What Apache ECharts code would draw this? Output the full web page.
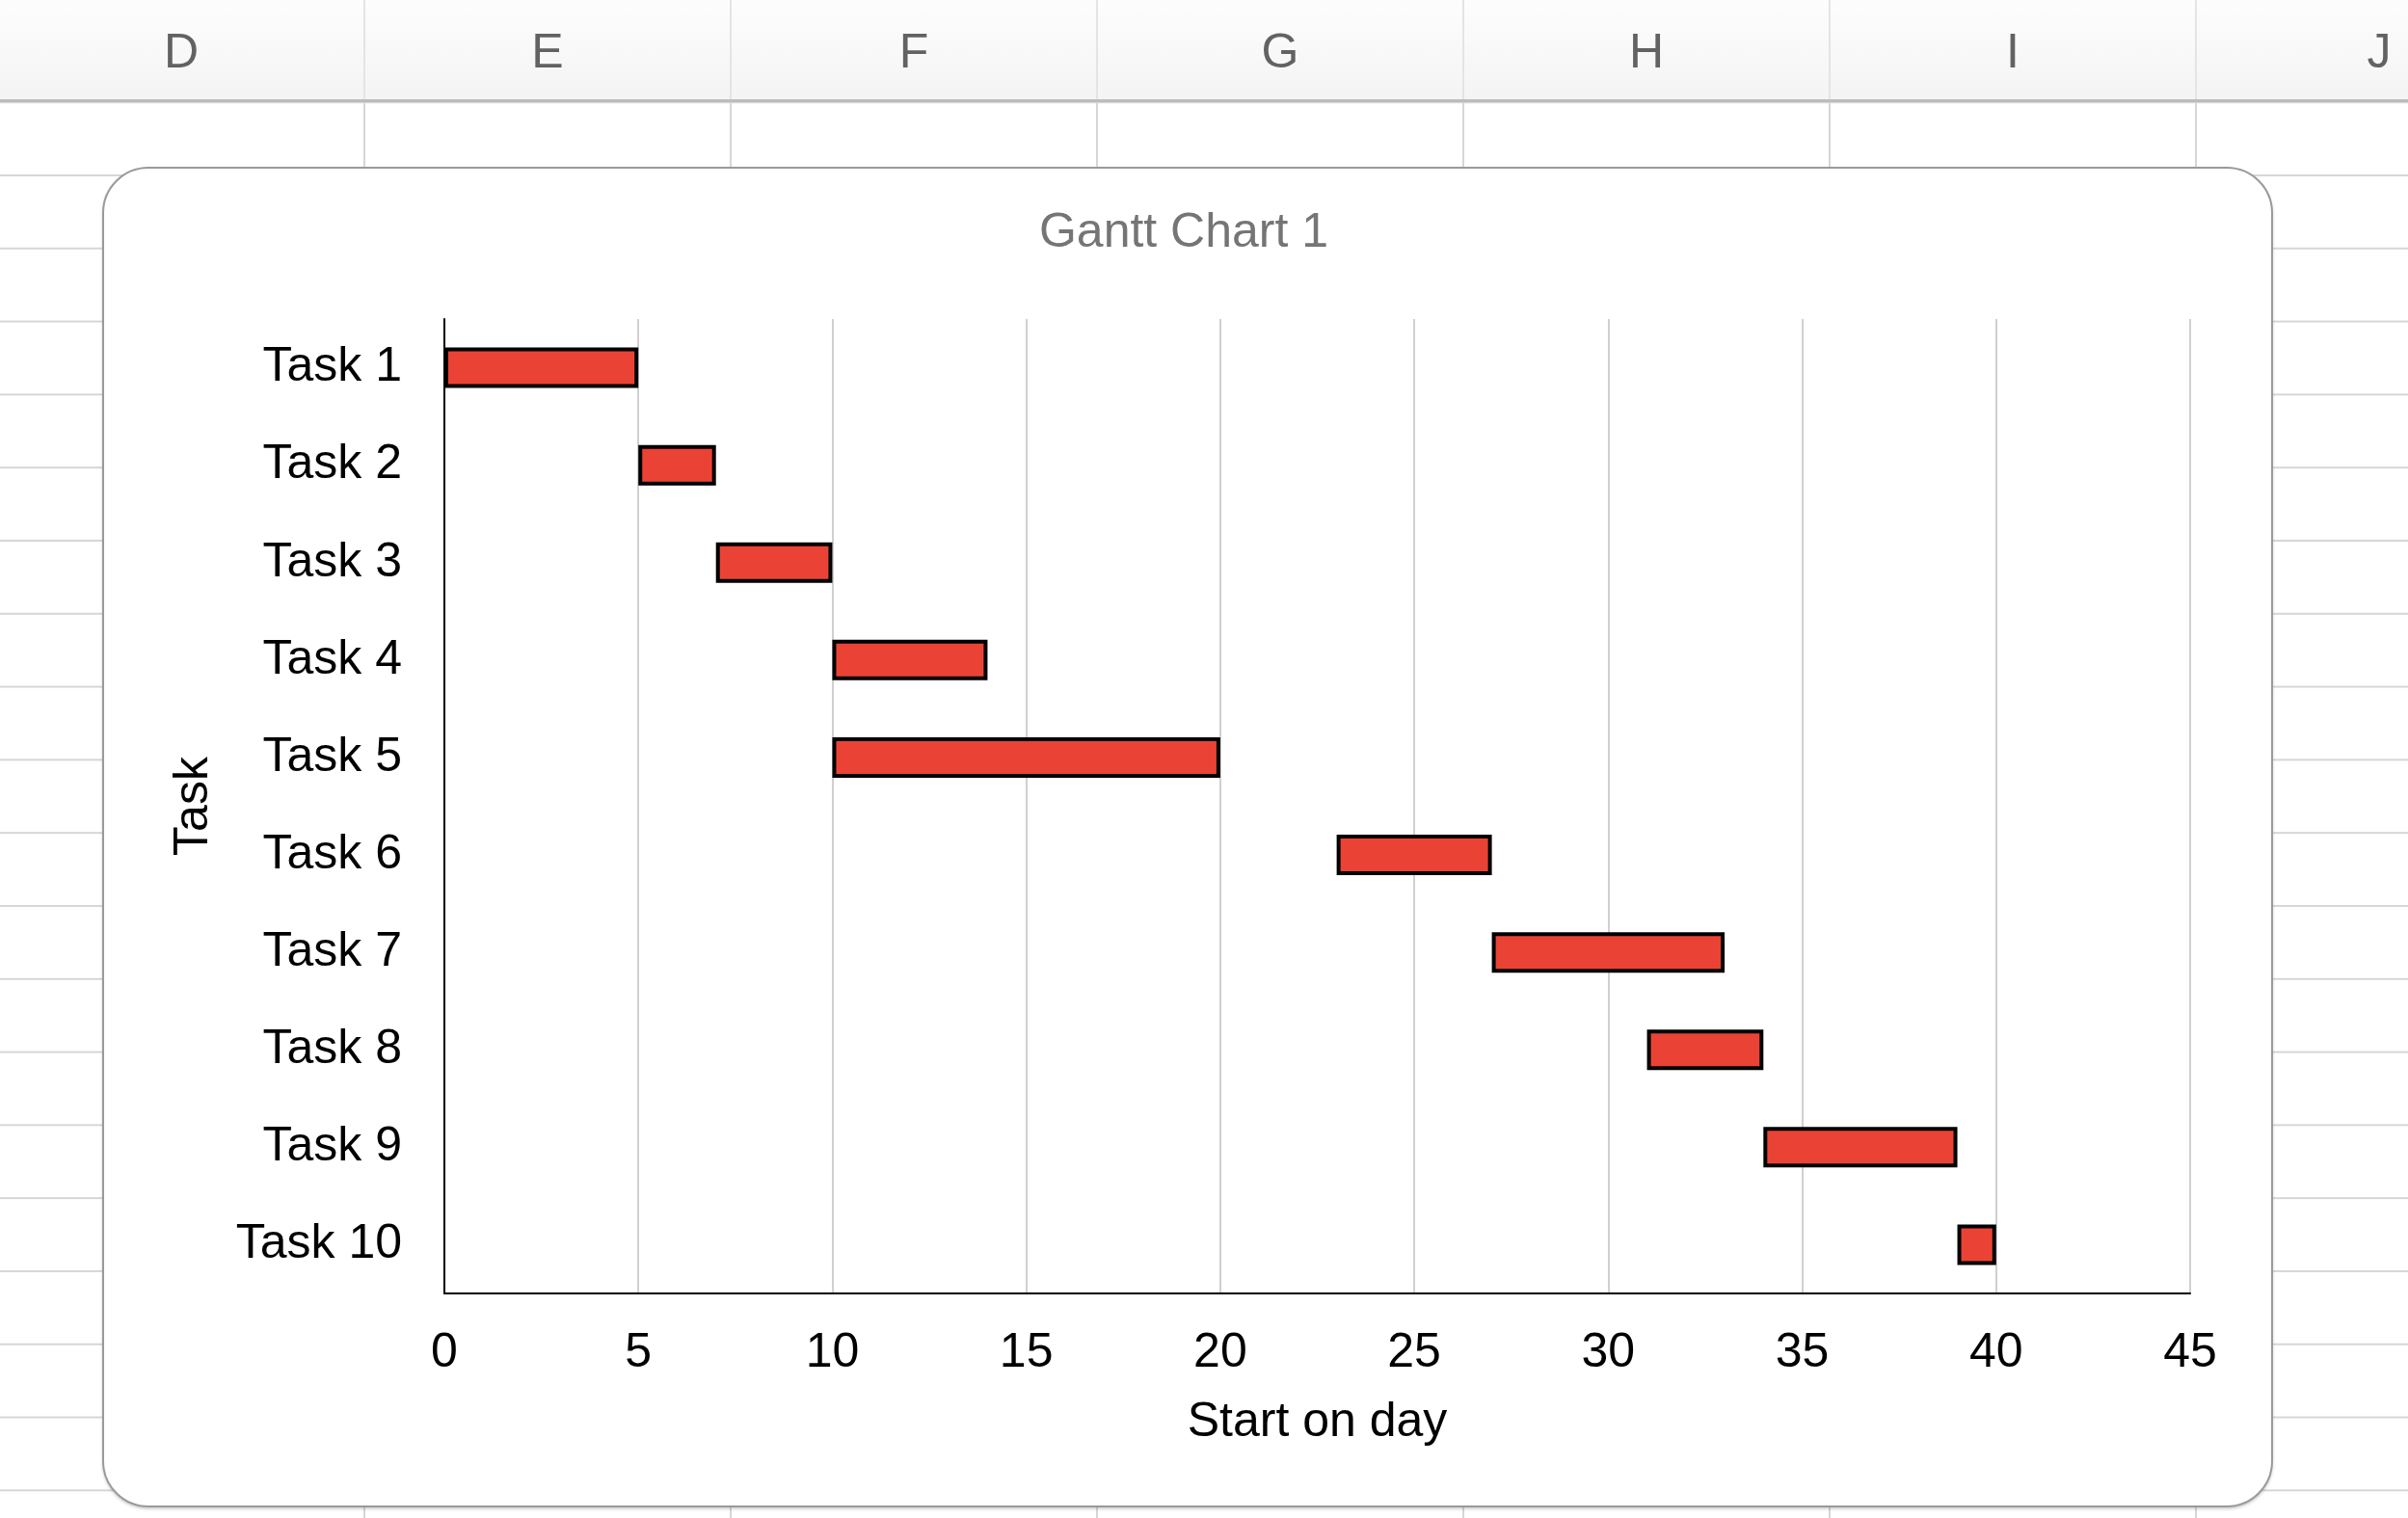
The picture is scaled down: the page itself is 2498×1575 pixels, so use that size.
<!DOCTYPE html>
<html>
<head>
<meta charset="utf-8">
<script src="https://cdn.jsdelivr.net/npm/echarts@6/dist/echarts.min.js"></script>
<style>
  html, body { margin: 0; padding: 0; }
  body {
    width: 2498px; height: 1575px; position: relative; overflow: hidden;
    background-color: #fff;
    font-family: 'Liberation Sans', Arial, Helvetica, sans-serif;
  }
  /* sheet grid */
  #sheet {
    position: absolute; left: 0; top: 106px; width: 2498px; height: 1469px;
    background-image:
      linear-gradient(90deg, #d6d6d6 0 2px, transparent 2px),
      linear-gradient(180deg, #d6d6d6 0 2px, transparent 2px);
    background-size: 380px 100%, 100% 75.8px;
    background-position: 377px 0, 0 75px;
  }
  #header {
    position: absolute; left: 0; top: 0; width: 2498px; height: 103px;
    border-bottom: 3px solid #bcbcbc;
    background-image:
      linear-gradient(90deg, #e4e4e4 0 2px, transparent 2px),
      linear-gradient(#fdfdfd, #f4f4f4);
    background-size: 380px 100%, 100% 100%;
    background-position: 377px 0, 0 0;
  }
  .col {
    position: absolute; top: 23px; width: 380px; margin-left: -190px;
    text-align: center; font-size: 50px; line-height: 60px; color: #626262;
  }
  #box {
    position: absolute; left: 106px; top: 173px; width: 2248px; height: 1387px;
    border: 2px solid #9a9a9a; border-radius: 48px; background: #fff;
    box-shadow: 0 2px 3px rgba(0,0,0,0.18);
  }
  #chart { position: absolute; left: 0; top: 0; width: 2498px; height: 1575px; }
</style>
</head>
<body>
<div id="sheet"></div>
<div id="header"></div>
<div id="box"></div>
<div id="chart"></div>
<script>
// column letters of the sheet
const columns = ['D', 'E', 'F', 'G', 'H', 'I', 'J'];

// gantt data
const tasks = ['Task 1', 'Task 2', 'Task 3', 'Task 4', 'Task 5', 'Task 6', 'Task 7', 'Task 8', 'Task 9', 'Task 10'];
const startDay = [0, 5, 7, 10, 10, 23, 27, 31, 34, 39];
const duration = [5, 2, 3, 4, 10, 4, 6, 3, 5, 1];

/* sheet header letters */
const header = document.getElementById('header');
columns.forEach((c, i) => {
  const d = document.createElement('div');
  d.className = 'col';
  d.style.left = (188 + i * 380) + 'px';
  d.textContent = c;
  header.appendChild(d);
});

const font = "'Liberation Sans', Arial, Helvetica, sans-serif";

const option = {
  backgroundColor: 'transparent',
  animation: false,
  textStyle: { fontFamily: font },
  title: {
    text: 'Gantt Chart 1',
    left: 1228,
    top: 217,
    padding: 0,
    textAlign: 'center',
    textStyle: { fontSize: 50, fontWeight: 'normal', color: '#757575', fontFamily: font }
  },
  grid: { left: 461, right: 226, top: 331, bottom: 233 },
  xAxis: {
    type: 'value',
    min: 0,
    max: 45,
    interval: 5,
    name: 'Start on day',
    nameLocation: 'middle',
    nameGap: 109,
    nameTextStyle: { fontSize: 50, color: '#000', fontFamily: font },
    axisLine: { show: true, lineStyle: { color: '#000', width: 2 } },
    axisTick: { show: false },
    axisLabel: { fontSize: 50, color: '#000', margin: 37, fontFamily: font },
    splitLine: { show: true, lineStyle: { color: '#d0d0d0', width: 2 } }
  },
  yAxis: {
    type: 'category',
    data: tasks,
    inverse: true,
    name: 'Task',
    nameLocation: 'middle',
    nameGap: 235,
    nameTextStyle: { fontSize: 50, color: '#000', fontFamily: font },
    axisLine: { show: true, lineStyle: { color: '#000', width: 2 } },
    axisTick: { show: false },
    axisLabel: { fontSize: 50, color: '#000', margin: 44, fontFamily: font },
    splitLine: { show: false }
  },
  series: [
    {
      name: 'start',
      type: 'bar',
      stack: 'gantt',
      silent: true,
      barWidth: 42,
      itemStyle: { color: 'transparent' },
      data: startDay
    },
    {
      name: 'duration',
      type: 'bar',
      stack: 'gantt',
      barWidth: 42,
      itemStyle: { color: '#EA4335', borderColor: '#000', borderWidth: 4 },
      data: duration
    }
  ]
};

const chart = echarts.init(document.getElementById('chart'));
chart.setOption(option);
</script>
</body>
</html>
